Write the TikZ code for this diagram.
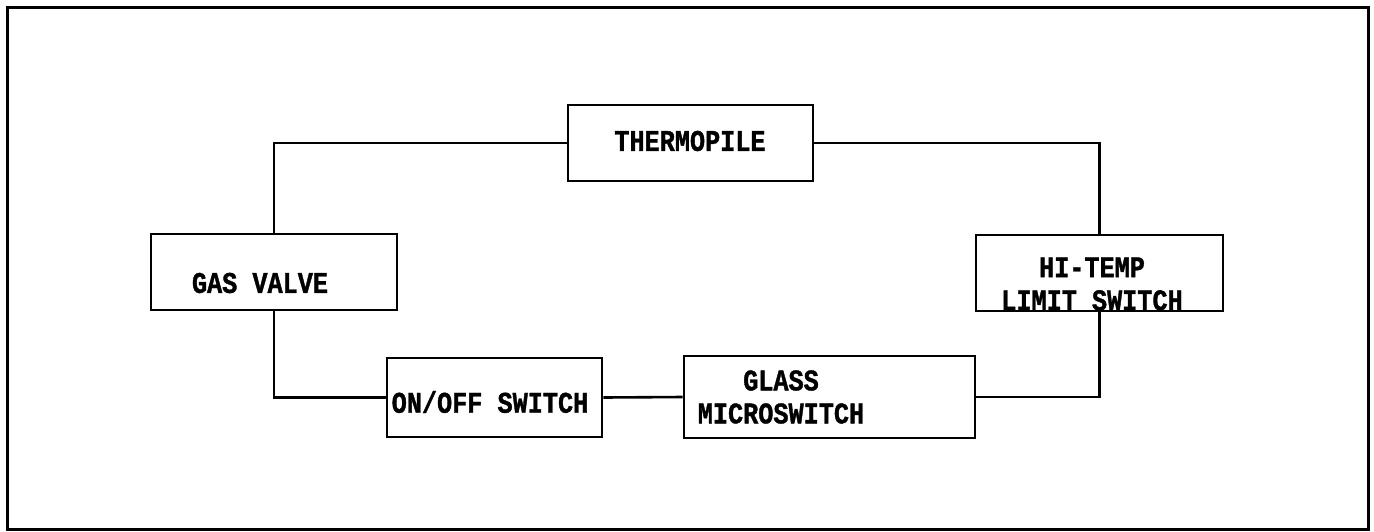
\documentclass[tikz,border=0pt]{standalone}
\usepackage{fontspec}
\setmonofont{Liberation Mono}[FakeStretch=0.84,BoldFeatures={FakeBold=1.2}]
\begin{document}
\begin{tikzpicture}[x=1pt,y=-1pt,
  box/.style={draw,line width=2.6pt,rectangle,inner sep=0pt},
  lbl/.style={font=\ttfamily\bfseries\fontsize{30}{33}\selectfont,inner sep=0pt,align=center},
  wire/.style={line width=2.6pt}]
\useasboundingbox (0,0) rectangle (1374,531);
\node[draw,line width=3pt,minimum width=1361pt,minimum height=522pt,inner sep=0pt] (frame) at (687.5,268) {};
% boxes
\node[box,minimum width=245pt,minimum height=76pt] (thermo) at (690.5,143) {};
\node[box,minimum width=246pt,minimum height=76pt] (gas) at (274,272) {};
\node[box,minimum width=215pt,minimum height=79pt] (onoff) at (494.5,397.5) {};
\node[box,minimum width=291pt,minimum height=82pt] (glass) at (829.5,397) {};
\node[box,minimum width=247pt,minimum height=76pt] (hitemp) at (1099.5,273) {};
% labels
\node[lbl] (tThermo) at (690,141) {THERMOPILE};
\node[lbl] (tGas) at (260,283) {GAS VALVE};
\node[lbl] (tOnoff) at (490,402) {ON/OFF SWITCH};
\node[lbl] (tGlass) at (781,397) {GLASS\\MICROSWITCH};
\node[lbl] (tHitemp) at (1092,284) {HI-TEMP\\LIMIT SWITCH};
% connectors
\draw[wire] (gas.north) |- (thermo.west);
\draw[wire] (thermo.east) -| (hitemp.north);
\draw[wire] (hitemp.south) |- (glass.east);
\draw[wire] (glass.west) -- (onoff.east);
\draw[wire] (onoff.west) -| (gas.south);
\end{tikzpicture}
\end{document}
